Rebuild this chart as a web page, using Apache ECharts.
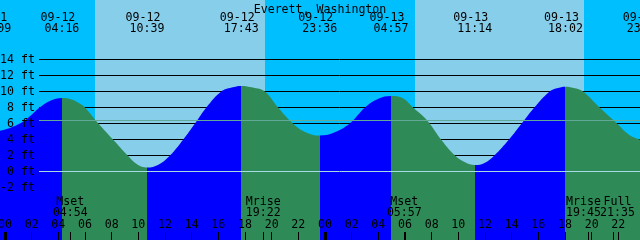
<!DOCTYPE html>
<html><head><meta charset="utf-8">
<script src="https://cdn.jsdelivr.net/npm/echarts@6/dist/echarts.min.js"></script>
<style>html,body{margin:0;padding:0;background:#fff}#c{width:640px;height:240px}</style>
</head><body><div id="c"></div>
<script>
const titleText = 'Everett, Washington';
// tide curve: hours since 09-12 00:00 and feet
const tideHours = [-0.375,0.375,1.125,1.5,2.0,2.6,3.4,4.267,5.0,5.6,6.0,7.0,8.1,9.2,9.9,10.65,11.5,12.375,13.37,14.25,15.1,16.22,17.0,17.717,18.6,19.48,20.48,21.6,22.5,23.6,24.6,25.85,27.0,28.0,28.95,29.85,30.6,31.3,31.85,32.7,33.75,34.5,35.233,36.0,36.7,37.8,38.75,39.7,40.85,41.4,42.033,42.75,43.35,44.6,45.9,46.8,47.625];
const tideFeet  = [5.1,5.45,6.0,6.4,7.1,8.0,8.85,9.2,9.0,8.5,8.0,6.0,4.0,2.0,0.9,0.5,0.85,2.0,4.0,6.0,8.0,10.0,10.5,10.7,10.5,10.0,8.0,6.0,4.95,4.5,4.8,6.0,8.0,9.1,9.45,9.15,8.0,7.0,6.0,4.0,2.0,1.15,0.8,1.1,2.0,4.0,6.0,8.0,10.0,10.4,10.6,10.4,10.0,8.0,6.0,4.6,4.0];
// high / low tide events
const eventHours = [-0.85,4.267,10.65,17.717,23.6,28.95,35.233,42.033,47.933];
const eventDates = ['09-11','09-12','09-12','09-12','09-12','09-13','09-13','09-13','09-13'];
const eventTimes = ['23:09','04:16','10:39','17:43','23:36','04:57','11:14','18:02','23:56'];
const eventKinds = ['L','H','L','H','L','H','L','H','L'];
// sun
const sunriseHours = [6.75, 30.75];
const sunsetHours = [19.5, 43.42];
// moon events
const moonHours = [4.9, 19.367, 29.95, 43.75, 45.583];
const moonNames = ['Mset','Mrise','Mset','Mrise','Full'];
const moonTimes = ['04:54','19:22','05:57','19:45','21:35'];
// axes
const hourTicks = [0,2,4,6,8,10,12,14,16,18,20,22,24,26,28,30,32,34,36,38,40,42,44,46,48];
const midnightTicks = [0, 24];
const depthMin = -2, depthMax = 14, depthStep = 2;
const zeroLevel = 0;
const meanLevel = 6.4;

const X_MIN = -0.375, X_MAX = 47.625;
const FONT = '"DejaVu Sans Mono", "Liberation Mono", monospace';
const FS = 11.6;
const RISE = '#0000ff', FALL = '#2e8b57', NIGHT = '#00bfff', DAY = '#87ceeb';

const tideData = tideHours.map((h, i) => [h, tideFeet[i]]);
const pieces = [];
for (let i = 0; i < eventHours.length - 1; i++) {
  pieces.push({gte: eventHours[i], lt: eventHours[i + 1], color: eventKinds[i + 1] === 'H' ? RISE : FALL});
}
const edges = [X_MIN - 1].concat(sunriseHours, sunsetHours).sort((a, b) => a - b).concat([X_MAX + 1]);
const sunData = [];
for (let i = 0; i < edges.length - 1; i++) sunData.push([edges[i], edges[i + 1], i % 2]);

const chart = echarts.init(document.getElementById('c'), null, {renderer: 'canvas'});
const txt = (x, y, t) => ({type: 'text', x: x, y: y, style: {text: t, fill: '#000', fontSize: FS, fontFamily: FONT, align: 'center', verticalAlign: 'middle'}});
const noLine = {show: false, onZero: false};

chart.setOption({
  animation: false,
  title: {text: titleText, left: 'center', top: -1, textStyle: {fontSize: FS, fontWeight: 'normal', fontFamily: FONT, color: '#000'}},
  grid: [
    {left: 0, right: 0, top: 0, bottom: 0, outerBoundsMode: 'none', containLabel: false},
    {left: 39, right: 0, top: 59.5, bottom: 52.5, outerBoundsMode: 'none', containLabel: false}
  ],
  visualMap: {type: 'piecewise', show: false, dimension: 0, seriesIndex: 1, pieces: pieces},
  xAxis: [
    {type: 'value', gridIndex: 0, position: 'bottom', min: X_MIN, max: X_MAX, z: 10,
     axisLine: noLine, splitLine: {show: false},
     axisTick: {show: true, inside: true, length: 8, customValues: hourTicks, lineStyle: {color: '#000', width: 1}},
     axisLabel: {show: true, inside: true, margin: 9, customValues: hourTicks, color: '#000', fontSize: FS, fontFamily: FONT,
       showMinLabel: true, showMaxLabel: true, hideOverlap: false,
       formatter: v => String(((v % 24) + 24) % 24).padStart(2, '0')}},
    {type: 'value', gridIndex: 0, position: 'bottom', min: X_MIN, max: X_MAX, z: 10,
     axisLine: noLine, splitLine: {show: false}, axisLabel: {show: false},
     axisTick: {show: true, inside: true, length: 8, customValues: midnightTicks, lineStyle: {color: '#000', width: 3}}},
    {type: 'value', gridIndex: 0, position: 'bottom', min: X_MIN, max: X_MAX, z: 10,
     axisLine: noLine, splitLine: {show: false}, axisLabel: {show: false},
     axisTick: {show: true, inside: true, length: 8, customValues: moonHours, lineStyle: {color: '#000', width: 1}}},
    {type: 'value', gridIndex: 1, min: 0, max: 1, show: false, axisLine: noLine}
  ],
  yAxis: [
    {type: 'value', gridIndex: 0, min: -68.5 / 8, max: 171.5 / 8, show: false, splitLine: {show: false}, axisLine: noLine},
    {type: 'value', gridIndex: 1, position: 'left', min: depthMin, max: depthMax, interval: depthStep, z: 2,
     axisLine: noLine, axisTick: {show: false}, axisLabel: {show: false},
     splitLine: {show: true, lineStyle: {color: '#000', width: 1}}},
    {type: 'value', gridIndex: 1, position: 'left', min: depthMin, max: depthMax, interval: depthStep, z: 10,
     axisLine: noLine, axisTick: {show: false}, splitLine: {show: false},
     axisLabel: {show: true, margin: 4, color: '#000', fontSize: FS, fontFamily: FONT, formatter: '{value} ft'}}
  ],
  series: [
    {type: 'custom', xAxisIndex: 0, yAxisIndex: 0, z: 1, silent: true, data: sunData,
     renderItem: (params, api) => {
       const a = api.coord([api.value(0), 0]), b = api.coord([api.value(1), 0]);
       const cs = params.coordSys;
       return {type: 'rect', shape: {x: a[0], y: cs.y, width: b[0] - a[0], height: cs.height},
               style: {fill: api.value(2) === 1 ? DAY : NIGHT}};
     }},
    {type: 'line', xAxisIndex: 0, yAxisIndex: 0, z: 3, data: tideData, smooth: 0.4, symbol: 'none',
     lineStyle: {width: 0, opacity: 0}, areaStyle: {opacity: 1, origin: 'start'}, silent: true},
    {type: 'line', xAxisIndex: 3, yAxisIndex: 1, z: 4, data: [[0, 0]], symbol: 'none', lineStyle: {opacity: 0}, silent: true,
     markLine: {silent: true, symbol: ['none', 'none'], label: {show: false}, animation: false,
       data: [{yAxis: zeroLevel, lineStyle: {color: '#a6dce6', width: 1, type: 'solid'}},
              {yAxis: meanLevel, lineStyle: {color: '#62a896', width: 1, type: 'solid'}}]}},
    {type: 'custom', xAxisIndex: 0, yAxisIndex: 0, z: 10, silent: true, data: eventHours.map(h => [h, 0]),
     renderItem: (params, api) => {
       const i = params.dataIndex;
       const x = api.coord([api.value(0), 0])[0];
       return {type: 'group', children: [txt(x - 4, 17.5, eventDates[i]), txt(x, 29.3, eventTimes[i])]};
     }},
    {type: 'custom', xAxisIndex: 0, yAxisIndex: 0, z: 10, silent: true, data: moonHours.map(h => [h, 0]),
     renderItem: (params, api) => {
       const i = params.dataIndex;
       const px = moonHours.map(h => api.coord([h, 0])[0]);
       const w = 34;
       for (let j = 0; j < px.length - 1; j++) {
         const d = px[j + 1] - px[j];
         if (d < w) { const s = (w - d) / 2; px[j] -= s; px[j + 1] += s; }
       }
       return {type: 'group', children: [txt(px[i], 201.7, moonNames[i]), txt(px[i], 213.3, moonTimes[i])]};
     }}
  ]
});
</script></body></html>
